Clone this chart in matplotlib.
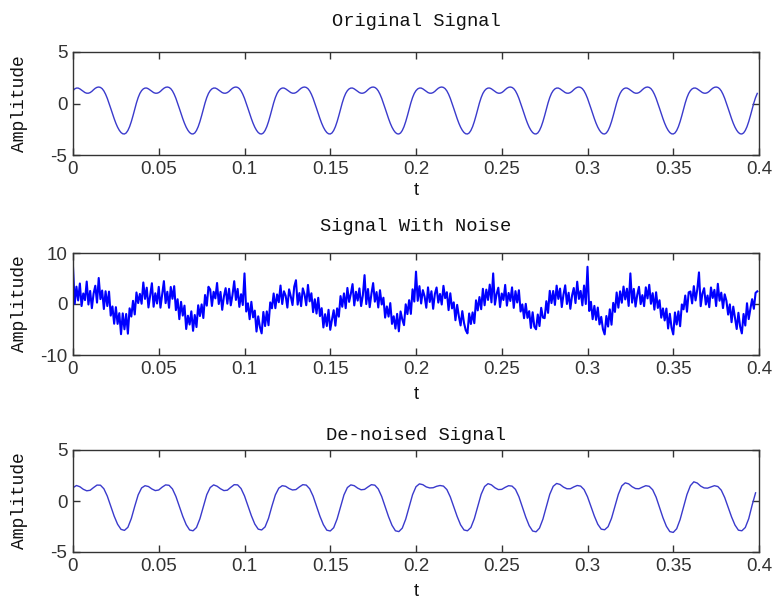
import numpy as np
import matplotlib
matplotlib.use("Agg")
import matplotlib.pyplot as plt

plt.rcParams['axes.unicode_minus'] = False

# one period (40 samples, 1 ms apart) of the clean signal
period_shape = [1.25, 1.42, 1.50, 1.50, 1.42, 1.30, 1.17, 1.06, 1.00, 1.00,
                1.06, 1.18, 1.34, 1.48, 1.57, 1.60, 1.56, 1.44, 1.22, 0.90,
                0.50, 0.03, -0.47, -0.98, -1.47, -1.92, -2.30, -2.60, -2.82, -2.94,
                -2.96, -2.86, -2.62, -2.25, -1.76, -1.18, -0.55, 0.06, 0.58, 0.98]
n_periods = 10

# noisy signal, 1 ms samples, read as well as the picture allows
noisy = [
    7.25, 0.02, 3.40, 0.70, 4.02, -0.40, 2.07, 0.76, 4.40, -0.10, 2.56, -0.82, 2.04, 3.58, 0.27, 5.10, 0.96, 2.64, -0.98, 2.50,
    -0.40, 2.43, -2.27, -0.48, -3.87, -0.62, -3.90, -1.80, -5.92, -1.84, -4.96, -1.96, -5.82, -0.85, -2.46, 0.62, -2.05, 2.26, 0.18, 1.98,
    0.05, 4.22, 1.00, 3.20, -0.68, 1.70, 4.07, -0.54, 2.10, 0.10, 3.36, -0.72, 1.94, 4.48, 0.17, 2.40, -0.74, 3.34, 1.02, 3.50,
    -1.20, 0.93, -2.97, 0.42, -2.27, -0.32, -4.90, -2.30, -4.02, -1.44, -5.26, -2.16, -4.52, -0.25, -2.36, -0.08, -2.75, 1.76, -0.32, 3.38,
    2.85, -0.38, 2.40, 1.10, 4.12, 0.00, 2.37, -1.14, 1.50, 3.10, 0.06, 2.98, -0.26, 1.78, 4.47, 0.80, 2.96, -0.56, 1.92, -0.20,
    6.00, -1.47, 0.13, -2.98, 0.43, -2.62, -1.30, -5.40, -2.42, -4.54, -5.76, -1.56, -4.32, -1.45, -4.16, 0.32, -0.85, 2.06, -0.82, 1.88,
    0.35, 3.62, 0.00, 2.50, 1.62, -0.70, 2.87, 1.46, -0.20, 3.40, 4.66, -0.12, 2.14, -0.42, 3.07, 1.90, -0.24, 3.74, 0.52, 2.10,
    -1.60, 0.93, -1.87, 1.22, -2.37, -0.82, -4.60, -2.00, -4.32, -1.14, -5.06, -3.06, -1.22, -4.25, -0.86, -2.48, 1.55, -0.54, 2.08, -0.82,
    3.15, 0.42, 2.00, 3.90, -0.28, 2.40, 0.67, 3.06, -0.40, 1.70, 5.66, -0.02, 2.94, -0.62, 1.97, 4.10, 0.46, 2.34, -0.68, 2.70,
    -0.10, 1.23, -2.67, -0.48, -2.47, 0.18, -3.90, -2.40, -4.82, -1.94, -5.36, -1.46, -3.02, -4.15, -0.06, -1.98, 0.75, -1.94, 2.88, 0.48,
    6.35, 0.62, 3.50, 0.10, 2.72, 1.50, -0.73, 3.26, 0.40, 2.50, -0.94, 1.98, 3.24, 0.28, 1.97, -0.10, 3.56, 1.14, 2.32, -1.20,
    2.10, -0.87, 0.33, -3.18, -0.17, -2.42, -4.20, -1.40, -3.72, -5.14, -5.76, -1.86, -3.92, -1.65, -3.76, 0.72, -1.25, 1.36, -1.02, 2.98,
    -0.25, 2.82, 0.80, 3.80, 0.32, 6.00, -0.13, 1.96, 3.20, -0.60, 2.06, 0.78, 3.74, -0.32, 2.17, 0.60, 3.26, -0.76, 2.52, 0.30,
    2.70, -1.47, -0.07, -2.78, 0.03, -2.72, -1.40, -4.70, -1.62, -4.44, -4.96, -2.06, -4.32, -0.75, -2.66, -2.78, 0.55, -1.74, 2.58, 0.18,
    2.55, -0.18, 3.60, 1.00, 3.02, -0.60, 1.87, 3.66, 0.00, 2.20, -0.94, 1.68, 3.14, 0.18, 4.37, 1.00, 2.56, -0.26, 3.62, 0.00,
    7.30, -1.37, 0.43, -2.98, -0.37, -3.12, -0.70, -4.00, -2.52, -4.94, -5.96, -2.36, -4.42, -1.05, -4.06, 0.22, -1.55, 2.26, -0.72, 2.48,
    0.25, 3.42, 0.90, 3.00, -0.38, 6.00, 0.27, 2.96, -0.50, 1.80, 3.36, -0.02, 1.74, -0.42, 3.27, 1.10, 3.76, 0.04, 2.12, -1.10,
    2.30, -0.77, 0.73, -2.68, -0.87, -3.22, -0.90, -4.80, -1.92, -4.64, -5.96, -1.66, -4.02, -1.45, -4.36, -0.08, -1.05, 1.66, -1.52, 2.28,
    2.45, 0.12, 3.50, 0.70, 2.82, 6.20, -0.43, 2.06, 3.10, -0.10, 1.66, -0.62, 3.24, 1.18, 2.77, -0.40, 3.96, 0.64, 2.22, -0.80,
    1.90, 0.63, -2.07, -0.08, -3.57, -0.52, -2.70, -4.90, -1.72, -4.44, -5.76, -1.96, -4.22, 0.15, -2.96, -0.88, 0.95, -0.94, 2.18, 2.48,
]

# de-noised signal, 2 ms samples
denoised = [
    1.30, 1.52, 1.40, 1.15, 1.00, 1.05, 1.32, 1.56, 1.55, 1.20, 0.48, -0.50, -1.48, -2.28, -2.78, -2.88, -2.58, -1.72, -0.52, 0.60,
    1.28, 1.50, 1.42, 1.18, 1.02, 1.08, 1.36, 1.58, 1.54, 1.18, 0.45, -0.52, -1.50, -2.32, -2.84, -2.92, -2.60, -1.74, -0.54, 0.62,
    1.32, 1.58, 1.45, 1.20, 1.02, 1.06, 1.34, 1.60, 1.58, 1.22, 0.50, -0.46, -1.44, -2.26, -2.76, -2.84, -2.54, -1.70, -0.50, 0.60,
    1.26, 1.50, 1.44, 1.22, 1.08, 1.12, 1.38, 1.60, 1.56, 1.20, 0.48, -0.50, -1.50, -2.32, -2.86, -2.94, -2.62, -1.76, -0.56, 0.60,
    1.32, 1.58, 1.50, 1.26, 1.10, 1.14, 1.38, 1.60, 1.55, 1.18, 0.44, -0.54, -1.54, -2.38, -2.92, -3.00, -2.66, -1.78, -0.56, 0.62,
    1.40, 1.68, 1.60, 1.38, 1.28, 1.30, 1.44, 1.52, 1.46, 1.12, 0.40, -0.56, -1.52, -2.34, -2.84, -2.92, -2.60, -1.74, -0.52, 0.66,
    1.42, 1.70, 1.58, 1.30, 1.12, 1.14, 1.34, 1.50, 1.46, 1.14, 0.42, -0.58, -1.58, -2.42, -2.94, -3.02, -2.66, -1.78, -0.54, 0.66,
    1.44, 1.72, 1.62, 1.36, 1.20, 1.20, 1.38, 1.52, 1.46, 1.12, 0.42, -0.52, -1.48, -2.28, -2.76, -2.82, -2.52, -1.70, -0.50, 0.66,
    1.48, 1.78, 1.68, 1.40, 1.22, 1.20, 1.36, 1.50, 1.44, 1.10, 0.38, -0.62, -1.64, -2.48, -3.00, -3.08, -2.72, -1.82, -0.58, 0.64,
    1.50, 1.88, 1.76, 1.46, 1.28, 1.26, 1.38, 1.50, 1.42, 1.06, 0.34, -0.60, -1.56, -2.36, -2.86, -2.92, -2.60, -1.74, -0.40, 0.80,
]

titles = ["Original Signal", "Signal With Noise", "De-noised Signal"]
x_ticks = [0, 0.05, 0.1, 0.15, 0.2, 0.25, 0.3, 0.35, 0.4]
x_tick_labels = ["0", "0.05", "0.1", "0.15", "0.2", "0.25", "0.3", "0.35", "0.4"]
y_limits = [(-5, 5), (-10, 10), (-5, 5)]

original = np.tile(period_shape, n_periods)
t_fine = np.arange(len(original)) * 0.001
t_dn = np.arange(len(denoised)) * 0.002

fig = plt.figure(figsize=(7.74, 6.03), dpi=100)
W, H = 774, 603

# axes boxes in pixels: (left, top, right, bottom)
boxes = [(73, 52, 759, 155), (73, 253, 759, 355), (73, 450, 759, 552)]
title_pads = [19, 16, 7]
label_pads = [3, 6, 6]

series = [(t_fine, original, '#3a3acc', 1.0),
          (t_fine, np.array(noisy), '#0000ff', 1.5),
          (t_dn, np.array(denoised), '#3a3acc', 1.0)]

for i, (l, tp, r, b) in enumerate(boxes):
    ax = fig.add_axes([l / W, 1 - b / H, (r - l) / W, (b - tp) / H])
    x, y, col, lw = series[i]
    ax.plot(x, y, color=col, linewidth=lw)
    ax.set_xlim(0, 0.4)
    ax.set_ylim(*y_limits[i])
    lo, hi = y_limits[i]
    ax.set_yticks([lo, 0, hi])
    ax.set_yticklabels([str(lo), "0", str(hi)])
    ax.set_xticks(x_ticks)
    ax.set_xticklabels(x_tick_labels)
    ax.tick_params(direction='in', top=True, right=True, length=5, width=1,
                   colors='#333333', labelsize=13.5, pad=4)
    for lab in ax.get_xticklabels() + ax.get_yticklabels():
        lab.set_fontfamily('Liberation Sans')
    for sp in ax.spines.values():
        sp.set_color('#333333')
        sp.set_linewidth(1.0)
    ax.set_title(titles[i], fontfamily='Liberation Mono', fontsize=13.5,
                 pad=title_pads[i], color='#111111')
    ax.set_ylabel("Amplitude", fontfamily='Liberation Mono', fontsize=13,
                  color='#111111')
    ax.yaxis.set_label_coords(-0.066, 0.5)
    ax.set_xlabel("t", fontfamily='Liberation Sans', fontsize=13,
                  labelpad=label_pads[i], color='#111111')

fig.savefig("out.png", dpi=100, facecolor='white')
